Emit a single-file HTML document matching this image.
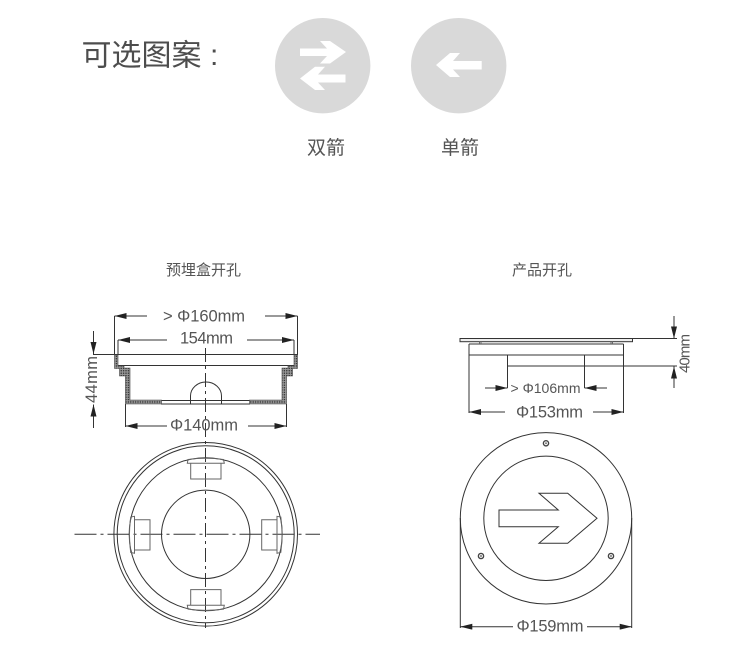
<!DOCTYPE html>
<html><head><meta charset="utf-8">
<style>html,body{margin:0;padding:0;background:#fff;width:730px;height:668px;overflow:hidden}svg{display:block}
.c{font-family:"Liberation Sans","Noto Sans CJK SC",sans-serif}
.d{font-family:"Liberation Sans",sans-serif;fill:#555;font-size:16.5px}
.b{filter:blur(.3px)}
</style></head><body>
<svg width="730" height="668" viewBox="0 0 730 668" xmlns="http://www.w3.org/2000/svg">
<defs>
<marker id="a" viewBox="0 0 12 6" refX="12" refY="3" markerWidth="12" markerHeight="6" orient="auto" markerUnits="userSpaceOnUse"><path d="M0 0L12 3L0 6Z" fill="#222"/></marker>
<pattern id="h" width="2.4" height="2.4" patternUnits="userSpaceOnUse"><rect width="2.4" height="2.4" fill="#999"/><circle cx="1.2" cy="1.2" r=".7" fill="#222"/></pattern>
</defs>

<g class="b">
<text class="c" x="81.5" y="65.500" font-size="30" fill="#4d4d4d">可选图案</text>
<text class="c" x="210" y="65" font-size="30" fill="#4d4d4d">:</text>
<circle cx="322.700" cy="65.700" r="47.700" fill="#d9d9d9"/>
<circle cx="458.700" cy="65.700" r="47.700" fill="#d9d9d9"/>
<polygon fill="#fff" points="300,48.500 327,48.500 320,41 330,41 346,52 330,63.500 320,63.500 327,56 300,56"/>
<polygon fill="#fff" points="345.500,74.500 318,74.500 325,66.700 315,66.700 300,78.500 315,90 325,90 318,82.500 345.500,82.500"/>
<polygon fill="#fff" points="481.700,61 453,61 460,53 450,53 436,65 450,77 460,77 453,69.500 481.700,69.500"/>
<text class="c" x="307" y="154" font-size="19" fill="#555">双箭</text>
<text class="c" x="441" y="154" font-size="19" fill="#555">单箭</text>
<text class="c" x="166" y="275" font-size="15" fill="#555">预埋盒开孔</text>
<text class="c" x="512" y="275" font-size="15" fill="#555">产品开孔</text>

<!-- left elevation -->
<g fill="none" stroke="#333" stroke-width="1">
<path d="M93 354.500H298M118 365.500H294M114.500 316V355M297.500 316V355M118 340V355M294 340V355"/>
<path d="M125.500 404V427M286.500 404V427"/>
<path d="M161 400.500H250M161 404H250"/>
<path d="M190.500 404V396A15.500 14 0 0 1 221.500 396V404"/>
<path d="M93.500 331V354" marker-end="url(#a)"/>
<path d="M93.500 428V404.500" marker-end="url(#a)"/>
<path d="M147 316H114.500" marker-end="url(#a)"/>
<path d="M265 316H297.500" marker-end="url(#a)"/>
<path d="M167 340H118" marker-end="url(#a)"/>
<path d="M247 340H294" marker-end="url(#a)"/>
<path d="M167 426H125.500" marker-end="url(#a)"/>
<path d="M248 426H286.500" marker-end="url(#a)"/>
</g>
<g fill="url(#h)" stroke="#444" stroke-width=".6">
<path d="M114.500 355H118V366H124V368H130V400H161.500V404H125.500V376H119.500V368.500H114.500Z"/>
<path d="M297.500 355H294V366H288V368H282V400H249.500V404H286.500V376H292.500V368.500H297.500Z"/>
</g>
<path d="M205.500 348V628" stroke="#333" stroke-width="1" stroke-dasharray="14 4 3 4" fill="none"/>
<text class="d" x="163" y="321.500" textLength="82" lengthAdjust="spacing">&gt; Φ160mm</text>
<text class="d" x="180" y="343.500" textLength="53" lengthAdjust="spacing">154mm</text>
<text class="d" x="170" y="430.500" textLength="68" lengthAdjust="spacing">Φ140mm</text>
<text class="d" transform="translate(97 403) rotate(-90)" textLength="47" lengthAdjust="spacing">44mm</text>

<!-- left plan -->
<g fill="none" stroke="#333" stroke-width="1">
<circle cx="205.700" cy="534.300" r="91.800"/>
<circle cx="205.700" cy="534.300" r="88.500"/>
<circle cx="205.700" cy="534.300" r="76.500"/>
<circle cx="205.700" cy="534.300" r="44.200"/>
<path d="M74.500 534.300H320" stroke-dasharray="22 4 3 4"/>
<path d="M190.700 463.300H221V479H190.700ZM187.300 463.300H224.300L223.500 459.500Q205.700 457 188 459.500Z" stroke="#666"/>
<path d="M190.700 605.300H221V589.600H190.700ZM187.300 605.300H224.300L223.500 609.100Q205.700 611.600 188 609.100Z" stroke="#666"/>
<path d="M134.500 519.700H150V550H134.500ZM134.500 516.300V553.300L130.700 552.500Q128.200 534.300 130.700 517Z" stroke="#666"/>
<path d="M277 519.700H261.700V550H277ZM277 516.300V553.300L280.800 552.500Q283.300 534.300 280.800 517Z" stroke="#666"/>
</g>

<!-- right elevation -->
<g fill="none" stroke="#333" stroke-width="1">
<rect x="460" y="338.500" width="172.500" height="3.200" fill="#eee"/>
<path d="M632 338.500H677M469 344H623.500M469 344V413M623.500 344V413M469 355H623.500M507.500 355V388M584.500 355V388M507.500 366H677"/>
<path d="M479.500 341.700V344M481 341.700V344M611 341.700V344M612.500 341.700V344" stroke="#666"/>
<path d="M674 316V338.500" marker-end="url(#a)"/>
<path d="M674 388V366.500" marker-end="url(#a)"/>
<path d="M485 388H507.500" marker-end="url(#a)"/>
<path d="M607 388H584.500" marker-end="url(#a)"/>
<path d="M505 412H469" marker-end="url(#a)"/>
<path d="M593 412H623.500" marker-end="url(#a)"/>
</g>
<text class="d" x="510.500" y="393" style="font-size:14px" textLength="70" lengthAdjust="spacing">&gt; Φ106mm</text>
<text class="d" x="516" y="417.500" textLength="67" lengthAdjust="spacing">Φ153mm</text>
<text class="d" transform="translate(689.500 373) rotate(-90)" style="font-size:15px" textLength="39" lengthAdjust="spacing">40mm</text>

<!-- right plan -->
<g fill="none" stroke="#333" stroke-width="1">
<circle cx="546" cy="518.300" r="85.700"/>
<circle cx="546" cy="518.300" r="62.200"/>
<polygon points="499,510 558.300,510 539,493.300 567.700,493.300 597,518.300 567.700,543.300 539,543.300 558.300,526.700 499,526.700"/>
<path d="M460.300 518V628M631.700 518V628"/>
<path d="M513 626.700H460.300" marker-end="url(#a)"/>
<path d="M587 626.700H631.700" marker-end="url(#a)"/>
<g stroke="#444" stroke-width="1.400"><circle cx="546" cy="443.300" r="2.600"/><circle cx="481" cy="556" r="2.600"/><circle cx="611" cy="556" r="2.600"/></g>
</g>
<g fill="#777"><circle cx="546" cy="443.300" r="1"/><circle cx="481" cy="556" r="1"/><circle cx="611" cy="556" r="1"/></g>
<text class="d" x="516.500" y="631.500" textLength="67" lengthAdjust="spacing">Φ159mm</text>
</g>
</svg>
</body></html>
